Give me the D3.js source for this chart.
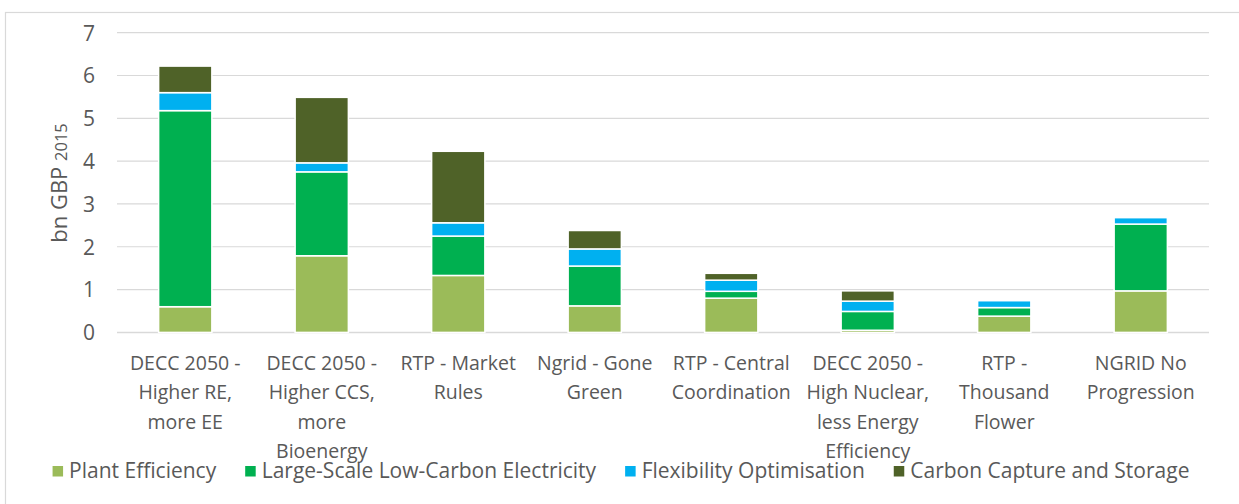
<!DOCTYPE html>
<html><head><meta charset="utf-8">
<script src="https://cdn.jsdelivr.net/npm/d3@7"></script>
<style>body{margin:0;background:#fff}svg{display:block}text{font-family:"Open Sans",sans-serif;fill:#595959}</style>
</head><body>
<svg id="c" width="1239" height="504"></svg>
<script>
const categories = [
  "DECC 2050 -\nHigher RE,\nmore EE",
  "DECC 2050 -\nHigher CCS,\nmore\nBioenergy",
  "RTP - Market\nRules",
  "Ngrid - Gone\nGreen",
  "RTP - Central\nCoordination",
  "DECC 2050 -\nHigh Nuclear,\nless Energy\nEfficiency",
  "RTP -\nThousand\nFlower",
  "NGRID No\nProgression"
];
const seriesNames = ["Plant Efficiency","Large-Scale Low-Carbon Electricity","Flexibility Optimisation","Carbon Capture and Storage"];
const plantEfficiency = [0.60, 1.79, 1.33, 0.62, 0.80, 0.05, 0.38, 0.97];
const largeScaleLowCarbon = [4.58, 1.96, 0.92, 0.93, 0.16, 0.44, 0.20, 1.56];
const flexibilityOptimisation = [0.42, 0.21, 0.31, 0.40, 0.26, 0.24, 0.16, 0.15];
const carbonCaptureStorage = [0.62, 1.53, 1.67, 0.43, 0.16, 0.24, 0.00, 0.00];
const yTicks = [0,1,2,3,4,5,6,7];
const colors = ["#9BBB59","#00B050","#00B0F0","#4F6228"];

const svg = d3.select("#c");
const M = {left:117, right:1209, top:32.7, bottom:332.4};
const x = d3.scaleBand().domain(d3.range(categories.length)).range([M.left, M.right]).paddingInner(0.61).paddingOuter(0.305);
const y = d3.scaleLinear().domain([0,7]).range([M.bottom, M.top]);

// border
svg.append("rect").attr("x",5.5).attr("y",12.5).attr("width",1300).attr("height",600)
  .attr("fill","none").attr("stroke","#d9d9d9").attr("stroke-width",1.2);

// gridlines
svg.append("g").selectAll("line").data(yTicks).join("line")
  .attr("x1",M.left).attr("x2",M.right)
  .attr("y1",d=>y(d)).attr("y2",d=>y(d))
  .attr("stroke","#d9d9d9").attr("stroke-width",d=>d===0?1.5:1.2);

// y axis labels
const yAxis = d3.axisLeft(y).tickValues(yTicks).tickFormat(d3.format("d")).tickSize(0).tickPadding(0);
const yg = svg.append("g").attr("transform",`translate(95,0)`).call(yAxis);
yg.select(".domain").remove();
yg.selectAll("text").style("font-size","21px").style("font-family","'Open Sans',sans-serif").attr("fill","#595959").attr("dy","0.35em");

// stacked bars
const rows = categories.map((c,i)=>({i, v:[plantEfficiency[i],largeScaleLowCarbon[i],flexibilityOptimisation[i],carbonCaptureStorage[i]]}));
const stack = d3.stack().keys([0,1,2,3]).value((d,k)=>d.v[k]);
const stacked = stack(rows);
svg.append("g").selectAll("g").data(stacked).join("g")
  .attr("fill",(d,k)=>colors[k])
  .selectAll("rect").data(d=>d.filter(s=>s[1]-s[0]>0)).join("rect")
  .attr("x",d=>x(d.data.i)).attr("width",x.bandwidth())
  .attr("y",d=>y(d[1])).attr("height",d=>y(d[0])-y(d[1]))
  .attr("stroke","#fff").attr("stroke-width",1.5);

// x labels
const xl = svg.append("g");
categories.forEach((c,i)=>{
  const cxm = x(i)+x.bandwidth()/2;
  const t = xl.append("text").attr("text-anchor","middle").style("font-size","19.5px")
    .attr("x", cxm).attr("y",370);
  c.split("\n").forEach((ln,j)=>t.append("tspan").attr("x",cxm).attr("y",370+j*29.4).text(ln));
});

// y title
const yt = svg.append("text").attr("transform","translate(67,183) rotate(-90)").attr("text-anchor","middle");
yt.append("tspan").style("font-size","22px").text("bn GBP ");
yt.append("tspan").style("font-size","16.5px").text("2015");

// legend
const lg = svg.append("g");
let cx = 0;
seriesNames.forEach((n,k)=>{
  const g = lg.append("g");
  g.append("rect").attr("x",cx).attr("y",-12).attr("width",10.5).attr("height",10.5).attr("fill",colors[k]);
  const t = g.append("text").attr("x",cx+16.5).attr("y",0).style("font-size","21px").text(n);
  cx += 16.5 + t.node().getComputedTextLength() + 29;
});
const total = cx - 29;
lg.attr("transform",`translate(${621 - total/2},478)`);
</script>
</body></html>
